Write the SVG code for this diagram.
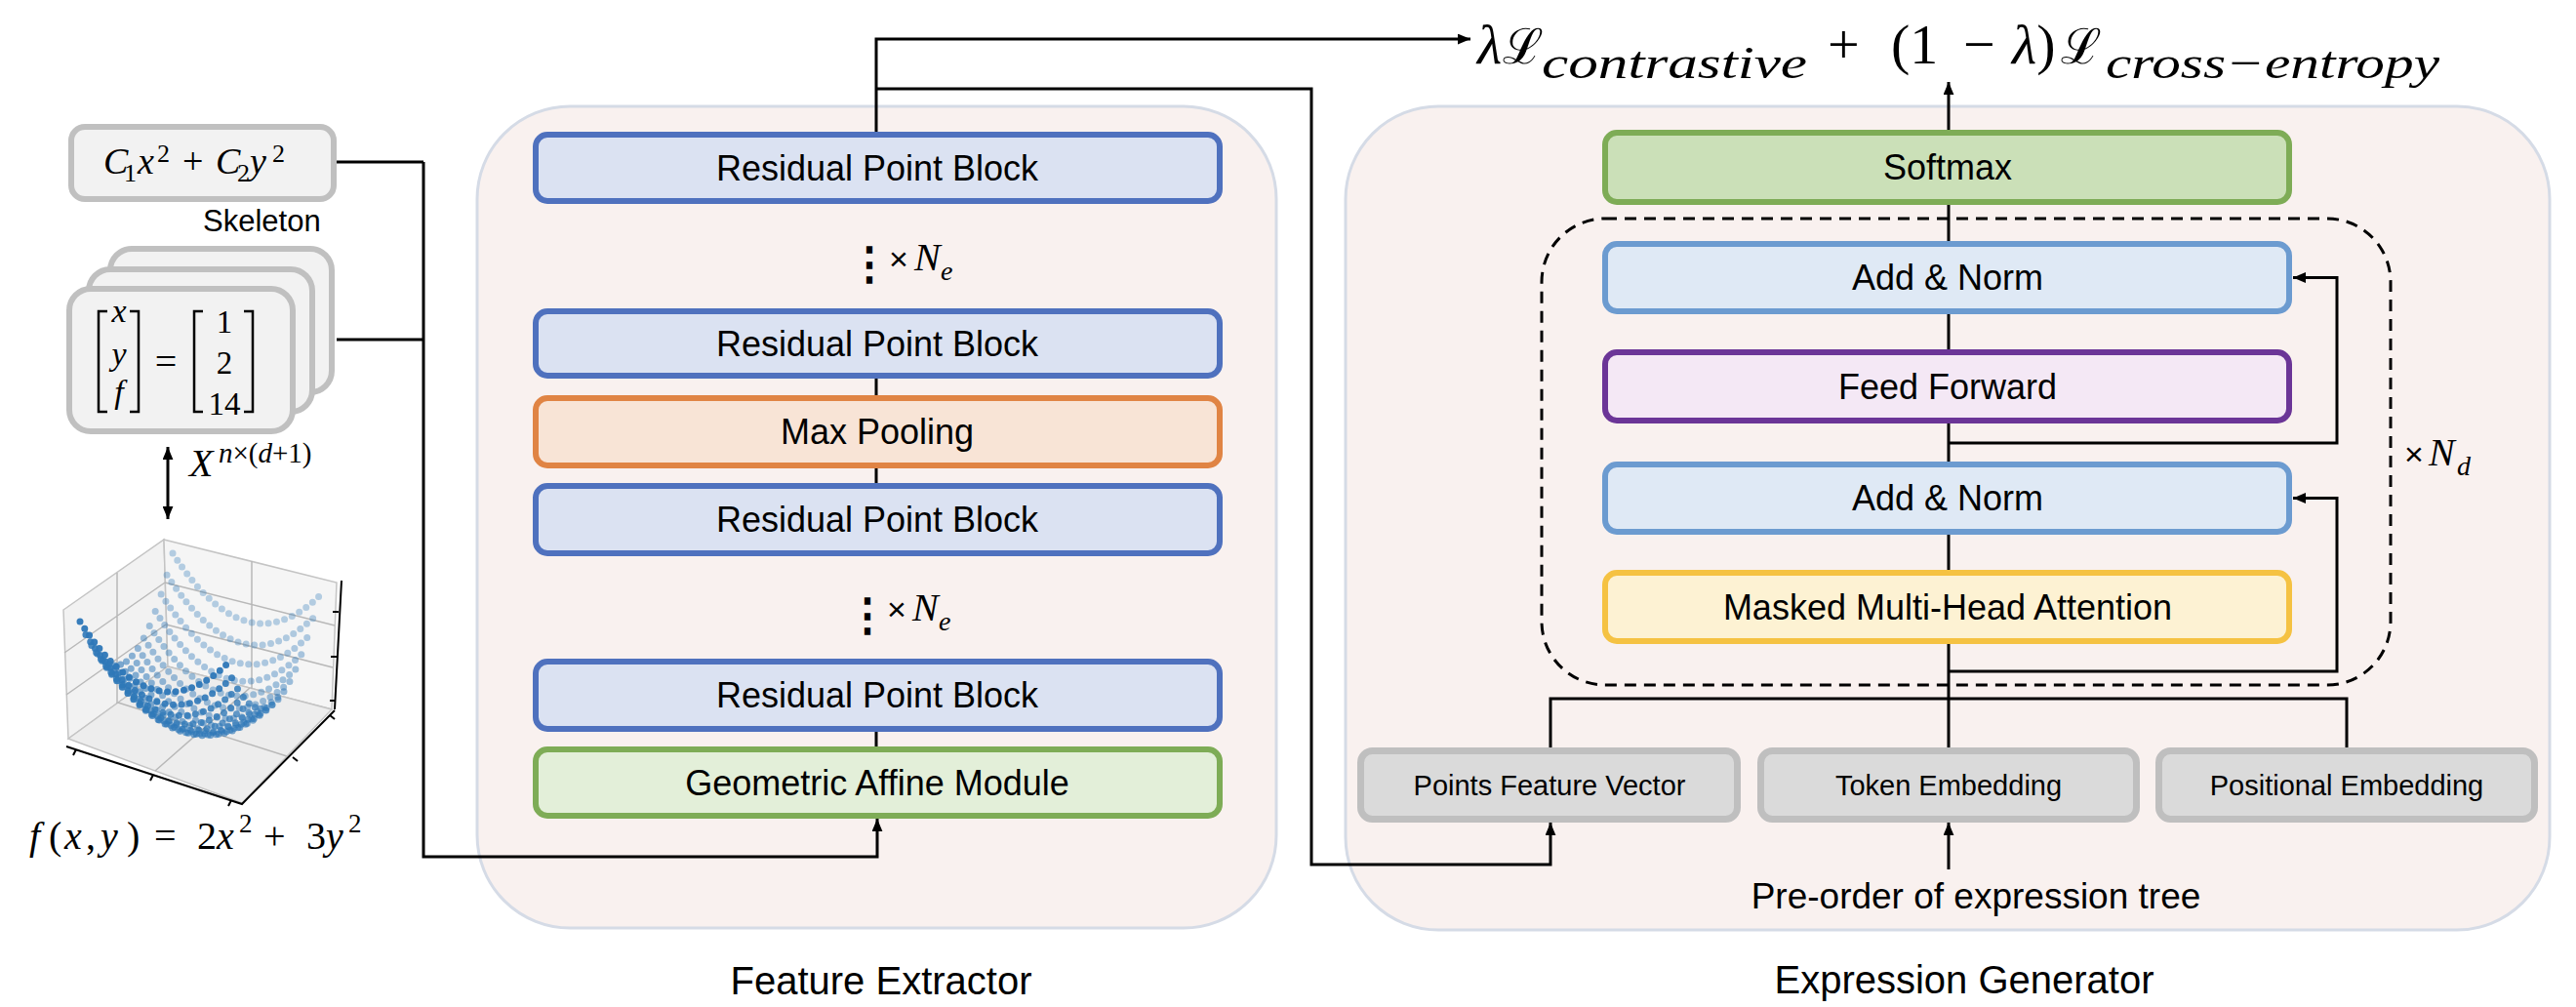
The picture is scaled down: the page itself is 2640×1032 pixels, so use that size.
<svg xmlns="http://www.w3.org/2000/svg" width="2640" height="1032" viewBox="0 0 2640 1032">
<defs>
<marker id="ah" viewBox="0 0 12 10" refX="12" refY="5" markerWidth="13" markerHeight="11" markerUnits="userSpaceOnUse" orient="auto-start-reverse"><path d="M0,0 L12,5 L0,10 z" fill="#000"/></marker>
<style>
.t{font-family:"Liberation Sans",Arial,sans-serif;fill:#000}
.m{font-family:"Liberation Serif","DejaVu Serif",serif;fill:#000}
.i{font-style:italic}
.panel{fill:#f9f1ef;stroke:#d5dbe6;stroke-width:3}
.ln{fill:none;stroke:#000;stroke-width:3}
.ar{fill:none;stroke:#000;stroke-width:3;marker-end:url(#ah)}
.rpb{fill:#dbe2f2;stroke:#4f71be;stroke-width:6}
.mp{fill:#f8e4d6;stroke:#e08444;stroke-width:6}
.gam{fill:#e3efd9;stroke:#7eac56;stroke-width:6}
.sm{fill:#cbe0b8;stroke:#7eac56;stroke-width:6}
.an{fill:#dfe9f5;stroke:#6c9bd0;stroke-width:6}
.ff{fill:#f4e8f5;stroke:#6b3597;stroke-width:6}
.mha{fill:#fdf2d3;stroke:#f5c242;stroke-width:6}
.gr{fill:#dadada;stroke:#bfbfbf;stroke-width:7}
.sk{fill:#f2f2f2;stroke:#c0c0c0;stroke-width:6}
.bt{font-size:36px;text-anchor:middle}
.gt{font-size:29px;text-anchor:middle}
.grid{fill:none;stroke:#b8b8b8;stroke-width:1.5}
.ax{fill:none;stroke:#000;stroke-width:2}
.dot{fill:none;stroke:#2f78b8;stroke-width:7;stroke-linecap:round;stroke-dasharray:0 8.5}
.br{fill:none;stroke:#000;stroke-width:2.5}
</style>
</defs>
<rect width="2640" height="1032" fill="#fff"/>

<g id="panels">
<rect id="feature-panel" class="panel" x="489" y="109" width="819" height="842" rx="95"/>
<rect id="generator-panel" class="panel" x="1379" y="109" width="1234" height="844" rx="95"/>
<rect id="decoder-repeat" x="1580" y="224" width="870" height="478" rx="65" fill="none" stroke="#000" stroke-width="3" stroke-dasharray="12 8"/>
</g>

<g id="connectors">
<path class="ln" d="M345,166 H434"/>
<path class="ln" d="M345,348 H434"/>
<path class="ar" d="M434,166 V878 H899 V839"/>
<path class="ar" d="M898,135 V40 H1507"/>
<path class="ar" d="M898,91 H1344 V886 H1589 V843"/>
<path class="ln" d="M172,532 V458" marker-start="url(#ah)" marker-end="url(#ah)"/>
<path class="ln" d="M898,388 V405 M898,480 V495 M898,750 V765"/>
<path class="ln" d="M1997,210 V766"/>
<path class="ar" d="M1997,133 V84"/>
<path class="ar" d="M1997,454 H2395 V284.5 H2350"/>
<path class="ar" d="M1997,688 H2395 V510.5 H2350"/>
<path class="ln" d="M1589,766 V716 H2405 V766"/>
<path class="ar" d="M1997,891 V843"/>
</g>

<g id="skeleton">
<rect class="sk" x="73" y="130" width="269" height="74" rx="14"/>
<text class="m" y="178" font-size="38"><tspan x="106" class="i">C</tspan><tspan x="127" y="186" font-size="26">1</tspan><tspan x="141" y="178" class="i">x</tspan><tspan x="161" y="166" font-size="26">2</tspan><tspan x="187" y="178">+</tspan><tspan x="221" class="i">C</tspan><tspan x="243" y="186" font-size="26">2</tspan><tspan x="256" y="178" class="i">y</tspan><tspan x="279" y="166" font-size="26">2</tspan></text>
<text class="t" x="208" y="237" font-size="31">Skeleton</text>
</g>

<g id="points-stack">
<rect class="sk" x="113" y="255" width="227" height="147" rx="22"/>
<rect class="sk" x="91" y="276" width="229" height="146" rx="22"/>
<rect class="sk" x="71" y="296" width="229" height="146" rx="22"/>
<path class="br" d="M110,319 H101 V422 H110 M133,319 H142 V422 H133 M208,319 H199 V422 H208 M250,319 H259 V422 H250"/>
<text class="m i" x="122" y="330" font-size="34" text-anchor="middle">x</text>
<text class="m i" x="122" y="374" font-size="34" text-anchor="middle">y</text>
<text class="m i" x="122" y="413" font-size="34" text-anchor="middle">f</text>
<text class="m" x="170" y="384" font-size="40" text-anchor="middle">=</text>
<text class="m" x="230" y="341" font-size="33" text-anchor="middle">1</text>
<text class="m" x="230" y="383" font-size="33" text-anchor="middle">2</text>
<text class="m" x="230" y="425" font-size="33" text-anchor="middle">14</text>
</g>

<g id="input-dim">
<text class="m" y="488" font-size="40"><tspan x="194" class="i">X</tspan><tspan x="224" y="474" font-size="29"><tspan class="i">n</tspan>×(<tspan class="i">d</tspan>+1)</tspan></text>
</g>

<g id="surface-plot">
<polygon points="65,625 168,553 172,683 70,757" fill="#f2f2f2" stroke="#c4c4c4" stroke-width="1.5"/>
<polygon points="168,553 345,597 340,727 172,683" fill="#f5f5f5" stroke="#c4c4c4" stroke-width="1.5"/>
<polygon points="70,757 172,683 340,727 248,823" fill="#ededed" stroke="#c4c4c4" stroke-width="1.5"/>
<path class="grid" d="M120,587 L120,721 M66,669 L169,597 M68,712 L170,640 M258,575 L258,706 M169,597 L343,641 M170,640 L341,684 M121,720 L294,775 M256,705 L159,790"/>
<path class="ax" d="M68,765 L248,824 L343,728 M350,595 L343,727 M78,768 l-3,6 M157,794 l-3,6 M237,820 l-3,6 M300,776 l5,4 M338,733 l5,4 M347,627 l-6,0 M345,673 l-6,0 M344,718 l-6,0"/>
<path class="dot" stroke-opacity="0.33" d="M177,567 Q254.5,687.7 332,606"/>
<path class="dot" stroke-opacity="0.35" d="M171.06,589.17 Q248.56,709.87 326.06,628.17"/>
<path class="dot" stroke-opacity="0.37" d="M165.13,608.96 Q242.63,729.66 320.13,647.96"/>
<path class="dot" stroke-opacity="0.4" d="M159.19,626.38 Q236.69,747.08 314.19,665.38"/>
<path class="dot" stroke-opacity="0.43" d="M153.25,641.42 Q230.75,762.12 308.25,680.42"/>
<path class="dot" stroke-opacity="0.46" d="M147.31,654.1 Q224.81,774.8 302.31,693.1"/>
<path class="dot" stroke-opacity="0.5" d="M141.38,664.41 Q218.88,785.11 296.38,703.41"/>
<path class="dot" stroke-opacity="0.54" d="M135.44,672.34 Q212.94,793.04 290.44,711.34"/>
<path class="dot" stroke-opacity="0.58" d="M129.5,677.9 Q207,798.6 284.5,716.9"/>
<path class="dot" stroke-opacity="0.62" d="M123.56,681.09 Q201.06,801.79 278.56,720.09"/>
<path class="dot" stroke-opacity="0.66" d="M117.63,681.91 Q195.13,802.61 272.63,720.91"/>
<path class="dot" stroke-opacity="0.7" d="M111.69,680.35 Q189.19,801.05 266.69,719.35"/>
<path class="dot" stroke-opacity="0.74" d="M105.75,676.42 Q183.25,797.12 260.75,715.42"/>
<path class="dot" stroke-opacity="0.79" d="M99.81,670.12 Q177.31,790.82 254.81,709.12"/>
<path class="dot" stroke-opacity="0.84" d="M93.88,661.46 Q171.38,782.16 248.88,700.46"/>
<path class="dot" stroke-opacity="0.9" d="M87.94,650.41 Q165.44,771.11 242.94,689.41"/>
<path class="dot" stroke-opacity="0.96" d="M82,637 Q159.5,757.7 237,676"/>
</g>

<g id="function-label">
<text class="m" y="870" font-size="40"><tspan x="30" class="i">f</tspan><tspan x="50">(</tspan><tspan x="66" class="i">x</tspan><tspan x="88">,</tspan><tspan x="103" class="i">y</tspan><tspan x="130">)</tspan><tspan x="158">=</tspan><tspan x="202">2</tspan><tspan x="222" class="i">x</tspan><tspan x="245" y="853" font-size="27">2</tspan><tspan x="270" y="870">+</tspan><tspan x="314">3</tspan><tspan x="334" class="i">y</tspan><tspan x="357" y="853" font-size="27">2</tspan></text>
</g>

<g id="rpb1"><rect class="rpb" x="549" y="138" width="701" height="68" rx="12"/><text class="t bt" x="899" y="185">Residual Point Block</text></g>
<g id="repeat-ne-1">
<text class="t" x="891" y="286" font-size="46" font-weight="bold" text-anchor="middle">⋮</text>
<text class="t" x="911" y="277" font-size="34">×</text><text class="m i" x="937" y="277" font-size="40">N</text><text class="m i" x="964" y="287" font-size="28">e</text>
</g>
<g id="rpb2"><rect class="rpb" x="549" y="319" width="701" height="66" rx="12"/><text class="t bt" x="899" y="365">Residual Point Block</text></g>
<g id="maxpool"><rect class="mp" x="549" y="408" width="701" height="69" rx="12"/><text class="t bt" x="899" y="455">Max Pooling</text></g>
<g id="rpb3"><rect class="rpb" x="549" y="498" width="701" height="69" rx="12"/><text class="t bt" x="899" y="545">Residual Point Block</text></g>
<g id="repeat-ne-2">
<text class="t" x="889" y="646" font-size="46" font-weight="bold" text-anchor="middle">⋮</text>
<text class="t" x="909" y="636" font-size="34">×</text><text class="m i" x="935" y="636" font-size="40">N</text><text class="m i" x="962" y="646" font-size="28">e</text>
</g>
<g id="rpb4"><rect class="rpb" x="549" y="678" width="701" height="69" rx="12"/><text class="t bt" x="899" y="725">Residual Point Block</text></g>
<g id="gam"><rect class="gam" x="549" y="768" width="701" height="68" rx="12"/><text class="t bt" x="899" y="815">Geometric Affine Module</text></g>
<text id="fe-label" class="t" x="903" y="1019" font-size="40" text-anchor="middle">Feature Extractor</text>

<g id="loss">
<text class="m" y="65" font-size="58"><tspan x="1514" class="i">λ</tspan><tspan x="1540" font-size="50">ℒ</tspan><tspan x="1873" font-size="58">+</tspan><tspan x="1938">(1</tspan><tspan x="2012">−</tspan><tspan x="2062" class="i">λ</tspan><tspan>)</tspan><tspan x="2112" font-size="50">ℒ</tspan></text>
<text class="m i" x="1580" y="80" font-size="46" textLength="272" lengthAdjust="spacingAndGlyphs">contrastive</text>
<text class="m i" x="2158" y="80" font-size="46" textLength="342" lengthAdjust="spacingAndGlyphs">cross−entropy</text>
</g>

<g id="softmax"><rect class="sm" x="1645" y="136" width="701" height="71" rx="12"/><text class="t bt" x="1996" y="184">Softmax</text></g>
<g id="addnorm1"><rect class="an" x="1645" y="250" width="701" height="69" rx="12"/><text class="t bt" x="1996" y="297">Add &amp; Norm</text></g>
<g id="feedforward"><rect class="ff" x="1645" y="361" width="701" height="70" rx="12"/><text class="t bt" x="1996" y="409">Feed Forward</text></g>
<g id="addnorm2"><rect class="an" x="1645" y="476" width="701" height="69" rx="12"/><text class="t bt" x="1996" y="523">Add &amp; Norm</text></g>
<g id="mha"><rect class="mha" x="1645" y="587" width="701" height="70" rx="12"/><text class="t bt" x="1996" y="635">Masked Multi-Head Attention</text></g>
<g id="repeat-nd"><text class="t" x="2464" y="477" font-size="34">×</text><text class="m i" x="2489" y="477" font-size="40">N</text><text class="m i" x="2518" y="487" font-size="28">d</text></g>

<g id="points-feature"><rect class="gr" x="1394.5" y="769.5" width="386" height="70" rx="12"/><text class="t gt" x="1588" y="815">Points Feature Vector</text></g>
<g id="token-emb"><rect class="gr" x="1804.5" y="769.5" width="385" height="70" rx="12"/><text class="t gt" x="1997" y="815">Token Embedding</text></g>
<g id="pos-emb"><rect class="gr" x="2212.5" y="769.5" width="385" height="70" rx="12"/><text class="t gt" x="2405" y="815">Positional Embedding</text></g>
<text id="preorder" class="t" x="2025" y="931" font-size="37" text-anchor="middle">Pre-order of expression tree</text>
<text id="eg-label" class="t" x="2013" y="1018" font-size="40" text-anchor="middle">Expression Generator</text>
</svg>
